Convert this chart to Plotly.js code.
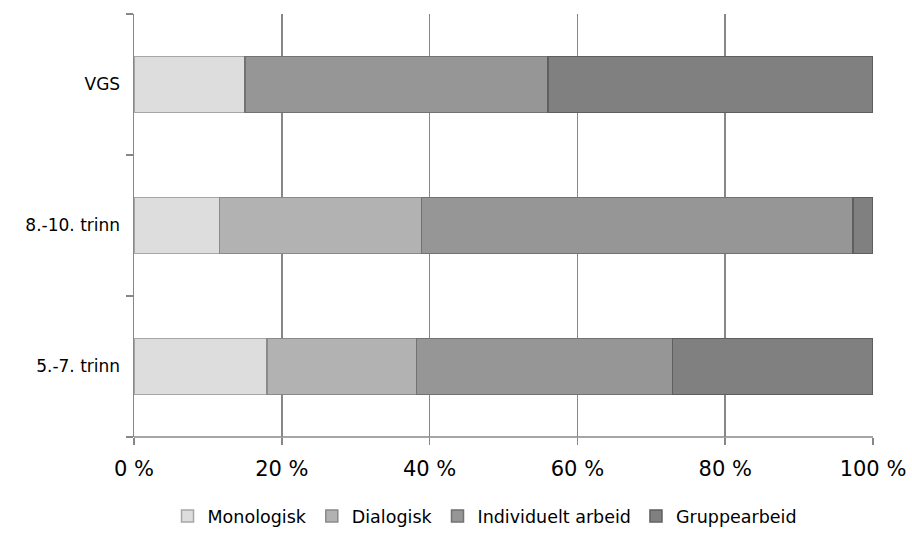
<!DOCTYPE html>
<html>
<head>
<meta charset="utf-8">
<script src="https://cdn.plot.ly/plotly-3.0.1.min.js"></script>
<style>
  html, body { margin: 0; padding: 0; background: #fff; }
  #chart { width: 912px; height: 534px; }
</style>
</head>
<body>
<div id="chart"></div>
<script>
// School levels, bottom to top
const categories = ["5.-7. trinn", "8.-10. trinn", "VGS"];

// Share of teaching time per working form (%)
const monologisk = [18.0, 11.6, 15.0];
const dialogisk = [20.2, 27.3, 0.0];
const individueltArbeid = [34.7, 58.4, 41.0];
const gruppearbeid = [27.1, 2.7, 44.0];

const seriesNames = ["Monologisk", "Dialogisk", "Individuelt arbeid", "Gruppearbeid"];
const xTickValues = [0, 20, 40, 60, 80, 100];
const xTickLabels = ["0 %", "20 %", "40 %", "60 %", "80 %", "100 %"];

const fills = ["#dddddd", "#b2b2b2", "#969696", "#808080"];
const outlines = ["#a6a6a6", "#8a8a8a", "#727272", "#5f5f5f"];

const values = [monologisk, dialogisk, individueltArbeid, gruppearbeid];

const traces = values.map((vals, i) => ({
  type: "bar",
  orientation: "h",
  name: seriesNames[i],
  x: vals,
  y: categories,
  marker: { color: fills[i], line: { color: outlines[i], width: 1.5 } },
  hoverinfo: "x+name"
}));

const font = "'DejaVu Sans', 'Liberation Sans', sans-serif";

const layout = {
  width: 912,
  height: 534,
  margin: { l: 134, r: 39, t: 14, b: 97, pad: 0 },
  paper_bgcolor: "#ffffff",
  plot_bgcolor: "#ffffff",
  barmode: "stack",
  bargap: 0.6,
  showlegend: true,
  font: { family: font, color: "#000000" },
  xaxis: {
    range: [0, 100],
    tickvals: xTickValues,
    ticktext: xTickLabels,
    showgrid: true,
    gridcolor: "#878787",
    gridwidth: 1.5,
    showline: false,
    zeroline: false,
    ticks: "outside",
    ticklen: 7,
    tickwidth: 1.5,
    tickcolor: "#878787",
    ticklabelstandoff: 6,
    tickfont: { size: 21, family: font, color: "#000" },
    automargin: false,
    fixedrange: true
  },
  yaxis: {
    type: "category",
    categoryorder: "array",
    categoryarray: categories,
    range: [-0.5, 2.5],
    showgrid: false,
    showline: true,
    linecolor: "#878787",
    linewidth: 1.5,
    zeroline: false,
    ticks: "outside",
    tickson: "boundaries",
    ticklen: 7,
    tickwidth: 1.5,
    tickcolor: "#878787",
    ticklabelstandoff: 9,
    tickfont: { size: 17, family: font, color: "#000" },
    automargin: false,
    fixedrange: true
  },
  shapes: [{
    type: "line", xref: "paper", yref: "paper",
    x0: 0, x1: 1, y0: 0, y1: 0,
    line: { color: "#878787", width: 1.5 }
  }],
  legend: {
    orientation: "h",
    xref: "paper", yref: "container",
    x: 0.475, xanchor: "center",
    y: 0, yanchor: "bottom",
    traceorder: "normal",
    font: { size: 17.5, family: font, color: "#000" },
    itemwidth: 30,
    tracegroupgap: 0
  }
};

Plotly.newPlot("chart", traces, layout, { displayModeBar: false, staticPlot: true });
</script>
</body>
</html>
